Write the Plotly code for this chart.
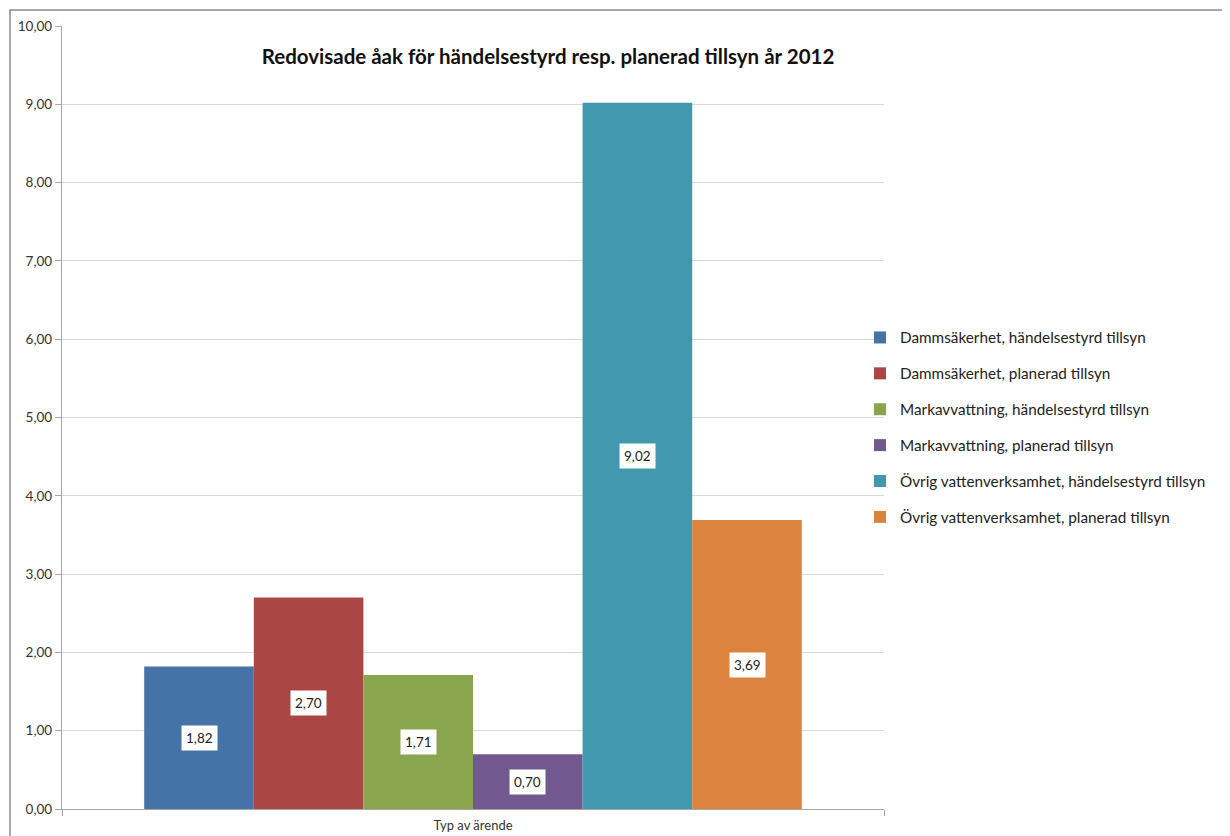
import plotly.graph_objects as go

categories = ["Typ av ärende"]
series_names = [
    "Dammsäkerhet, händelsestyrd tillsyn",
    "Dammsäkerhet, planerad tillsyn",
    "Markavvattning, händelsestyrd tillsyn",
    "Markavvattning, planerad tillsyn",
    "Övrig vattenverksamhet, händelsestyrd tillsyn",
    "Övrig vattenverksamhet, planerad tillsyn",
]
series_values = [1.82, 2.70, 1.71, 0.70, 9.02, 3.69]
colors = ["#4572A7", "#AA4643", "#89A54E", "#71588F", "#4198AF", "#DB843D"]
y_ticks = [0, 1, 2, 3, 4, 5, 6, 7, 8, 9, 10]

FONT = "Lato, Open Sans, sans-serif"
bargap = 0.2

fig = go.Figure()
for i, (name, val) in enumerate(zip(series_names, series_values)):
    fig.add_trace(go.Bar(
        x=categories, y=[val], name=name,
        marker=dict(color=colors[i], line=dict(width=0)),
        legendgroup=f"g{i}",
    ))

n = len(series_values)
bw = (1 - bargap) / n
for i, val in enumerate(series_values):
    fig.add_annotation(
        x=-(1 - bargap) / 2 + (i + 0.5) * bw, y=val / 2, xref="x", yref="y",
        text=f"{val:.2f}".replace(".", ","), showarrow=False,
        bgcolor="white", borderpad=4,
        font=dict(family=FONT, size=13.5, color="#222"),
    )

# page offset (body margin)
OFF = 8
W, H = 1230, 836
L, R, T, B = 62 - OFF, 346 + OFF, 26 - OFF, 27 + OFF
pw, ph = W - L - R, H - T - B

def px(xp):
    return (xp - OFF - L) / pw

def py(yp):
    return (H - B - (yp - OFF)) / ph

fig.add_shape(type="rect", xref="paper", yref="paper",
              x0=px(10), x1=px(1260), y0=py(880), y1=py(10),
              line=dict(color="#8c8c8c", width=1.5), layer="below")

fig.update_layout(
    width=W, height=H,
    margin=dict(l=L, r=R, t=T, b=B, autoexpand=False),
    paper_bgcolor="white", plot_bgcolor="white",
    barmode="group", bargap=bargap, bargroupgap=0,
    separators=",.",
    font=dict(family=FONT, size=13, color="#333"),
    title=dict(text="<b>Redovisade åak för händelsestyrd resp. planerad tillsyn år 2012</b>",
               x=(548 - OFF) / W, xanchor="center", y=1 - (57 - OFF) / H, yanchor="middle",
               font=dict(family=FONT, size=20.5, color="#111")),
    legend=dict(x=px(860), xanchor="left", y=py(321), yanchor="top",
                traceorder="grouped", tracegroupgap=13,
                font=dict(family=FONT, size=15.3, color="#222"),
                itemwidth=30, bgcolor="rgba(0,0,0,0)"),
    showlegend=True,
)
fig.update_xaxes(
    showline=True, linecolor="#a6a6a6", linewidth=1.3,
    ticks="outside", tickson="boundaries", ticklen=6, tickcolor="#a6a6a6",
    tickfont=dict(family=FONT, size=13, color="#333"),
    ticklabelstandoff=4,
    showgrid=False,
)
fig.update_yaxes(
    range=[0, 10], tickvals=y_ticks, tickformat=".2f",
    showline=True, linecolor="#a6a6a6", linewidth=1.3,
    ticks="outside", ticklen=6, tickcolor="#a6a6a6",
    gridcolor="#d9d9d9", gridwidth=1.2,
    tickfont=dict(family=FONT, size=13.5, color="#333"),
    zeroline=False,
)

fig.write_html("out.html")
